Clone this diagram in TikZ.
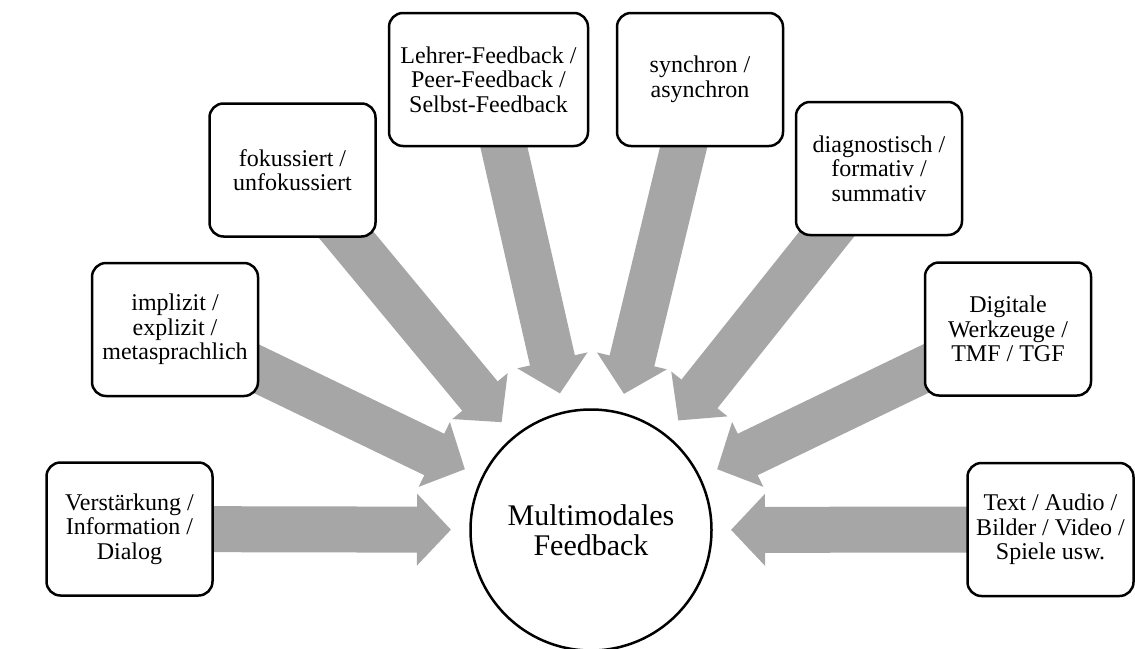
\documentclass[tikz,border=0pt]{standalone}
\usepackage{fontspec}
\setmainfont{Liberation Serif}
\usetikzlibrary{arrows.meta,calc,backgrounds}
\definecolor{arrowgray}{HTML}{A6A6A6}
\begin{document}
\begin{tikzpicture}[x=1pt,y=-1pt,
  box/.style={draw=black, line width=2.5pt, rounded corners=14pt, fill=white,
    minimum width=166pt, minimum height=133pt, align=center,
    font=\fontsize{24}{24.5}\selectfont, inner sep=2pt},
  hub/.style={draw=black, line width=2.5pt, circle, fill=white, minimum size=241pt,
    align=center, font=\fontsize{30}{30}\selectfont, inner sep=0pt},
  feed/.style={color=arrowgray, line width=46pt, line cap=butt,
    -{Triangle[length=34pt,width=70pt]}}]
\useasboundingbox (0,0) rectangle (1135,648);
\node[hub] (c) at (591,530) {Multimodales\\Feedback};
\node[box] (b1) at (129.5,529) {Verstärkung /\\Information /\\Dialog};
\node[box] (b2) at (175,329.5) {implizit /\\explizit /\\metasprachlich};
\node[box] (b3) at (292.5,170) {fokussiert /\\unfokussiert};
\node[box, minimum width=199pt] (b4) at (488.5,79.5) {Lehrer-Feedback /\\Peer-Feedback /\\Selbst-Feedback};
\node[box] (b5) at (700,79.5) {synchron /\\asynchron};
\node[box] (b6) at (879,168.5) {diagnostisch /\\formativ /\\summativ};
\node[box] (b7) at (1008,329) {Digitale\\Werkzeuge /\\TMF / TGF};
\node[box] (b8) at (1050.5,529.5) {Text / Audio /\\Bilder / Video /\\Spiele usw.};
\begin{scope}[on background layer]
  \foreach \b in {b1,b2,b3,b4,b5,b6,b7,b8}
    \draw[feed] (\b.center) -- ($(c.center)!140pt!(\b.center)$);
\end{scope}
\end{tikzpicture}
\end{document}
